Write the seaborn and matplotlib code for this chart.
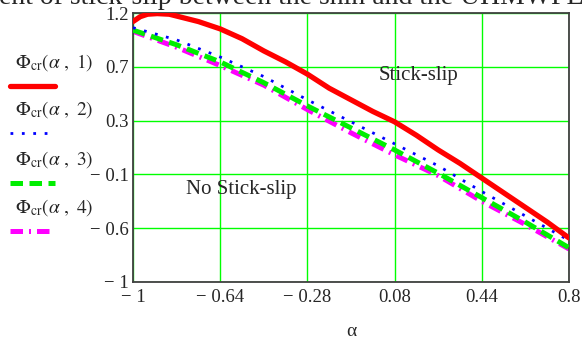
import numpy as np
import pandas as pd
import matplotlib
matplotlib.use("Agg")
import matplotlib.pyplot as plt
from matplotlib.lines import Line2D
import seaborn as sns

# ---- data ----
alpha_red = [-1.0, -0.97, -0.94, -0.9, -0.85, -0.82, -0.73, -0.64, -0.55, -0.46, -0.37,
             -0.28, -0.19, -0.10, -0.01, 0.08, 0.17, 0.26, 0.35, 0.44, 0.53, 0.62, 0.71, 0.80]
phi1 = [1.13, 1.17, 1.19, 1.195, 1.19, 1.175, 1.13, 1.07, 0.99, 0.89, 0.80,
        0.70, 0.585, 0.49, 0.395, 0.31, 0.20, 0.08, -0.03, -0.15, -0.27, -0.39, -0.51, -0.64]
alpha = [-1.0, -0.82, -0.64, -0.46, -0.28, -0.10, 0.08, 0.26, 0.44, 0.62, 0.80]
phi2 = [1.08, 0.98, 0.84, 0.68, 0.49, 0.31, 0.13, -0.05, -0.26, -0.46, -0.66]
phi3 = [1.06, 0.94, 0.80, 0.63, 0.44, 0.26, 0.08, -0.11, -0.31, -0.51, -0.72]
phi4 = [1.05, 0.92, 0.77, 0.61, 0.41, 0.22, 0.04, -0.13, -0.34, -0.53, -0.73]

xticks = [-1.0, -0.64, -0.28, 0.08, 0.44, 0.8]
xticklabels = ["\u2212 1", "\u2212 0.64", "\u2212 0.28", "0.08", "0.44", "0.8"]
yticks = [-1.0, -0.56, -0.12, 0.32, 0.76, 1.2]
yticklabels = ["\u2212 1", "\u2212 0.6", "\u2212 0.1", "0.3", "0.7", "1.2"]
legend_labels = [r"$\Phi_{\mathrm{cr}}(\alpha\ ,\ 1)$", r"$\Phi_{\mathrm{cr}}(\alpha\ ,\ 2)$",
                 r"$\Phi_{\mathrm{cr}}(\alpha\ ,\ 3)$", r"$\Phi_{\mathrm{cr}}(\alpha\ ,\ 4)$"]

sns.set_style("white")
plt.rcParams["font.family"] = ["Liberation Serif", "DejaVu Serif"]
plt.rcParams["mathtext.fontset"] = "stix"

fig = plt.figure(figsize=(5.82, 3.40), dpi=100)
ax = fig.add_axes([133/582, 1-282/340, (569-133)/582, (282-13)/340])

df1 = pd.DataFrame({"alpha": alpha_red, "phi": phi1})
df = pd.DataFrame({"alpha": alpha, "p2": phi2, "p3": phi3, "p4": phi4})

styles = [dict(color="#ff0000", lw=3.8, ls="-"),
          dict(color="#0000ff", lw=2.0, ls=(0, (1, 3.1))),
          dict(color="#00ee00", lw=3.6, ls=(0, (2.5, 1.3))),
          dict(color="#ff00ff", lw=3.6, ls=(0, (2.5, 1.2, 0.4, 1.2)))]

sns.lineplot(data=df1, x="alpha", y="phi", ax=ax, zorder=5, **styles[0])
sns.lineplot(data=df, x="alpha", y="p2", ax=ax, zorder=4, **styles[1])
sns.lineplot(data=df, x="alpha", y="p3", ax=ax, zorder=3, **styles[2])
sns.lineplot(data=df, x="alpha", y="p4", ax=ax, zorder=2, **styles[3])

ax.set_xlim(-1, 0.8)
ax.set_ylim(-1, 1.2)
ax.set_xticks(xticks)
ax.set_xticklabels(xticklabels, fontsize=13.5)
ax.set_yticks(yticks)
ax.set_yticklabels(yticklabels, fontsize=13.5)
ax.tick_params(axis="x", length=0, pad=5)
ax.tick_params(axis="y", length=0, pad=3)
ax.grid(True, color="#00ff00", lw=1.0)
ax.set_axisbelow(True)
for s in ax.spines.values():
    s.set_color("#404040")
    s.set_linewidth(1.3)
ax.set_xlabel("\u03b1", fontsize=14, labelpad=12)
ax.set_ylabel("")

ax.text(0.016, 0.69, "Stick-slip", fontsize=15, va="center", ha="left")
ax.text(-0.781, -0.24, "No Stick-slip", fontsize=15, va="center", ha="left")

# partially visible title above the plot (cut off by the top edge)
fig.text(-1/582, 1 - 3.5/340, "ent of stick-slip between the shin and the UHMWPE",
         fontsize=20, ha="left", va="baseline")

# manual legend on the left
baselines = [68, 115, 165, 213]
for lab, st, by in zip(legend_labels, styles, baselines):
    fig.text(15/582, 1 - by/340, lab, fontsize=14, ha="left", va="baseline")
    y = 1 - (by + 18)/340
    fig.add_artist(Line2D([10/582, 55/582], [y, y], transform=fig.transFigure, **st))

fig.savefig("out.png", dpi=100)
